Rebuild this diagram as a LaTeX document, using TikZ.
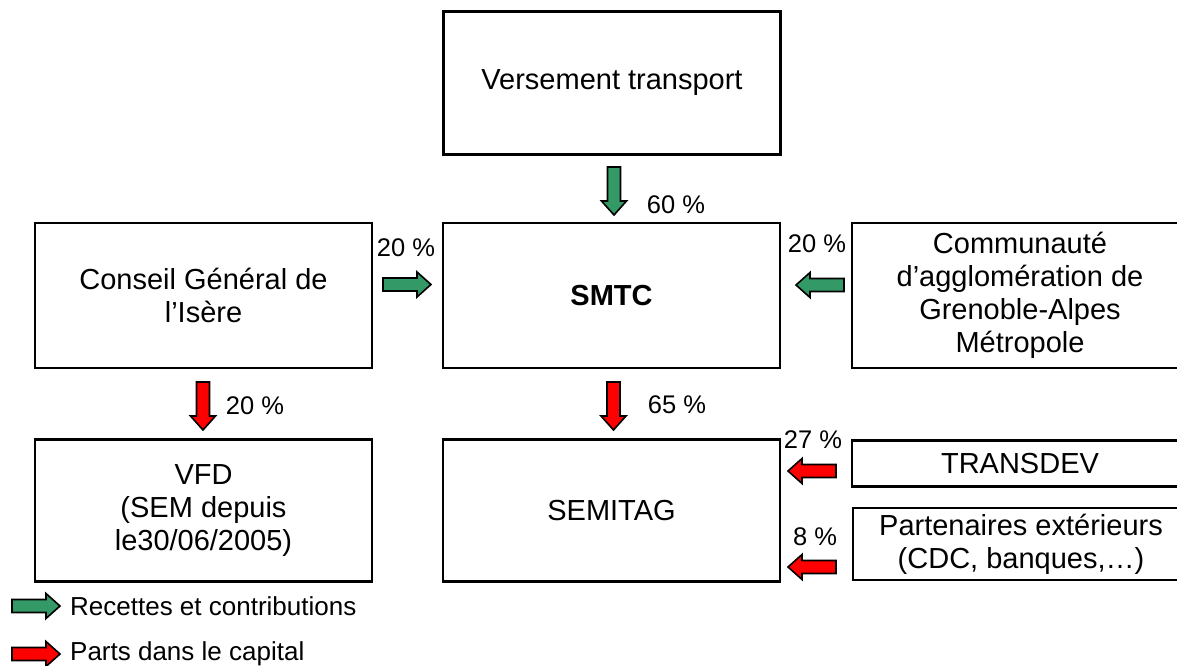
\documentclass[tikz,border=0pt]{standalone}
\usepackage{fontspec}
\setmainfont{Liberation Sans}
\definecolor{gfill}{RGB}{51,153,102}
\definecolor{rfill}{RGB}{255,0,0}
\begin{document}
\begin{tikzpicture}[x=1pt,y=-1pt,
  box/.style={draw=black,line width=2.8pt,align=center,inner sep=4pt,
    font=\fontsize{29}{33}\selectfont},
  lbl/.style={font=\fontsize{25.5}{30}\selectfont,inner sep=0pt},
  pics/barrow/.style={code={
    \draw[line width=1.6pt,fill=#1,line join=miter]
      (-24,-6.5) -- (10,-6.5) -- (10,-12.5) -- (24,0) -- (10,12.5) -- (10,6.5) -- (-24,6.5) -- cycle;}}
]
\clip (0,0) rectangle (1177,666);
\fill[white] (0,0) rectangle (1177,666);
% boxes
\node[box,minimum width=337pt,minimum height=143pt] (vt) at (612,83) {Versement transport};
\node[box,minimum width=337pt,minimum height=145pt] (cg) at (203.5,295.5) {Conseil Général de\\l’Isère};
\node[box,minimum width=337pt,minimum height=145pt] (smtc) at (611.5,295.5) {\textbf{SMTC}};
\node[box,minimum width=336pt,minimum height=145pt] (ca) at (1020,295.5) {Communauté\\d’agglomération de\\Grenoble-Alpes\\Métropole};
\node[box,minimum width=337pt,minimum height=142pt] (vfd) at (203.5,510.5) {VFD\\(SEM depuis\\le30/06/2005)};
\node[box,minimum width=337pt,minimum height=142pt] (sem) at (611.5,510.5) {SEMITAG};
\node[box,minimum width=336pt,minimum height=46pt] (td) at (1020,463.5) {TRANSDEV};
\node[box,line width=1.8pt,minimum width=336pt,minimum height=72pt] (pe) at (1021,544) {Partenaires extérieurs\\(CDC, banques,…)};
% block arrows
\pic[rotate=-90] (a1) at (614,191) {barrow=gfill};
\pic (a2) at (407,284.5) {barrow=gfill};
\pic[rotate=180] (a3) at (820,285) {barrow=gfill};
\pic[rotate=-90] (a4) at (203,406) {barrow=rfill};
\pic[rotate=-90] (a5) at (613.5,406) {barrow=rfill};
\pic[rotate=180] (a6) at (812,471) {barrow=rfill};
\pic[rotate=180] (a7) at (812,567) {barrow=rfill};
\pic (a8) at (36,606) {barrow=gfill};
\pic (a9) at (36,654) {barrow=rfill};
% labels
\node[lbl] (l1) at (676,205) {60 \%};
\node[lbl] (l2) at (406,248) {20 \%};
\node[lbl] (l3) at (817,244) {20 \%};
\node[lbl] (l4) at (255,406) {20 \%};
\node[lbl] (l5) at (677,405) {65 \%};
\node[lbl] (l6) at (813,440) {27 \%};
\node[lbl] (l7) at (815,537) {8 \%};
\node[lbl,anchor=west,font=\fontsize{26}{30}\selectfont] (g1) at (70,606) {Recettes et contributions};
\node[lbl,anchor=west,font=\fontsize{26}{30}\selectfont] (g2) at (70,654) {Parts dans le capital};
\end{tikzpicture}
\end{document}
